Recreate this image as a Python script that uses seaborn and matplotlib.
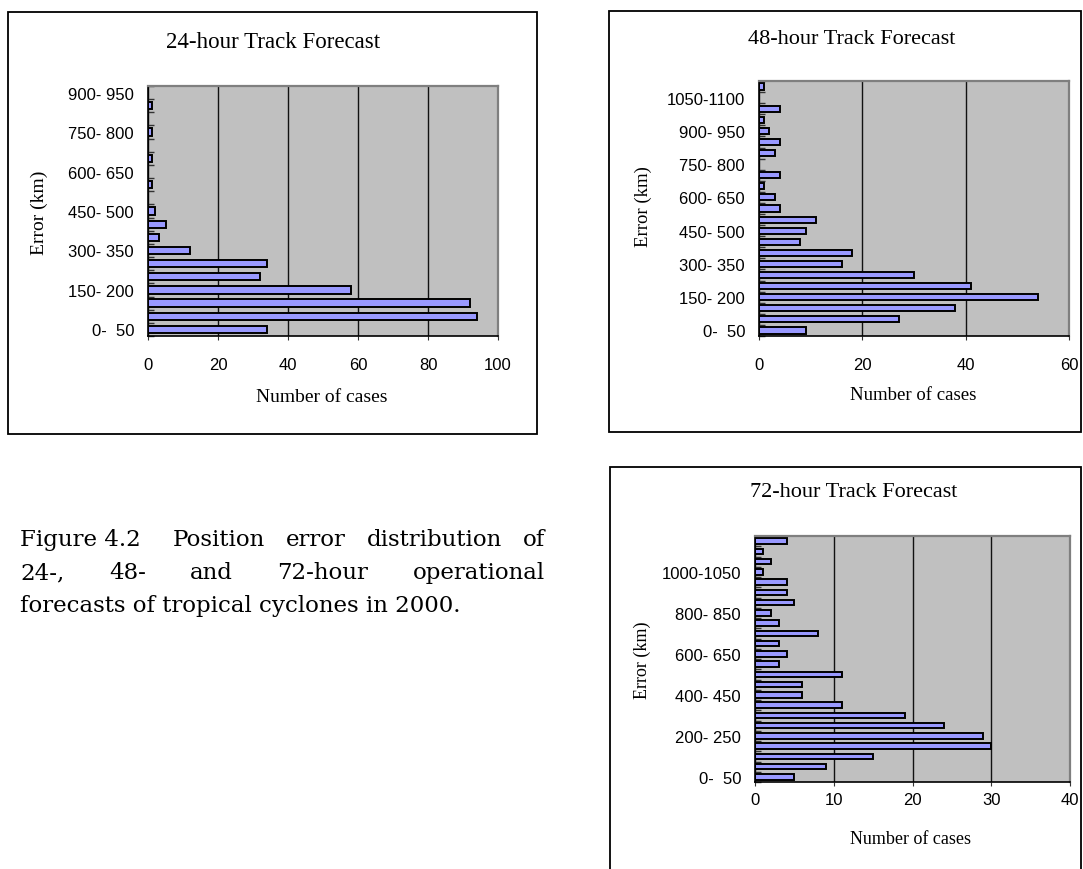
import numpy as np
import matplotlib
matplotlib.use('Agg')
import matplotlib.pyplot as plt
import seaborn as sns
from matplotlib.patches import Rectangle
from matplotlib.ticker import FixedLocator

# Error bins (km) and number of cases per bin
labels_24 = ['0-  50', '50- 100', '100- 150', '150- 200', '200- 250', '250- 300',
             '300- 350', '350- 400', '400- 450', '450- 500', '500- 550', '550- 600',
             '600- 650', '650- 700', '700- 750', '750- 800', '800- 850', '850- 900',
             '900- 950']
labels_48 = labels_24 + ['950-1000', '1000-1050', '1050-1100', '1100-1150']
labels_72 = labels_48 + ['1150-1200']

cases_24 = [34, 94, 92, 58, 32, 34, 12, 3, 5, 2, 0, 1, 0, 1, 0, 1, 0, 1, 0]
cases_48 = [9, 27, 38, 54, 41, 30, 16, 18, 8, 9, 11, 4, 3, 1, 4, 0, 3, 4, 2, 1, 4, 0, 1]
cases_72 = [5, 9, 15, 30, 29, 24, 19, 11, 6, 6, 11, 3, 4, 3, 8, 3, 2, 5, 4, 4, 1, 2, 1, 4]

W, H = 1083, 870
fig = plt.figure(figsize=(W / 100, H / 100), dpi=100)

SERIF = 'Liberation Serif'
SANS = 'Liberation Sans'
BAR = '#9999ff'
BG = '#c0c0c0'


def fx(x):
    return x / W


def fy(y):
    return 1 - y / H


def panel(box, labels, cases, step, xmax, xstep, xpad):
    x0, y0, x1, y1 = box
    ax = fig.add_axes([fx(x0), fy(y1), (x1 - x0) / W, (y1 - y0) / H])
    sns.barplot(x=cases, y=labels, orient='h', color=BAR, saturation=1,
                edgecolor='black', linewidth=1.4, width=0.55, ax=ax)
    n = len(labels)
    ax.set_facecolor(BG)
    ax.set_xlim(0, xmax)
    ax.set_ylim(-0.5, n - 0.5)
    ax.set_xlabel('')
    ax.set_ylabel('')
    ticks = list(range(0, n, step))
    ax.set_yticks(ticks)
    ax.set_yticklabels([labels[i] for i in ticks], fontfamily=SANS, fontsize=12)
    ax.yaxis.set_minor_locator(FixedLocator(np.arange(-0.5, n, 1)))
    ax.tick_params(axis='y', which='major', length=0, pad=10)
    ax.tick_params(axis='y', which='minor', direction='in', length=4,
                   color='#333333', width=1)
    xt = list(range(0, xmax + 1, xstep))
    ax.set_xticks(xt)
    ax.set_xticklabels([str(v) for v in xt], fontfamily=SANS, fontsize=12)
    ax.tick_params(axis='x', which='major', direction='out', length=3,
                   color='#333333', pad=xpad)
    ax.xaxis.grid(True, color='#111111', lw=1)
    ax.set_axisbelow(True)
    for s in ['left', 'bottom']:
        ax.spines[s].set_color('black')
        ax.spines[s].set_linewidth(1.2)
    for s in ['top', 'right']:
        ax.spines[s].set_color('#7f7f7f')
        ax.spines[s].set_linewidth(1.6)
    return ax


def frame(x0, y0, x1, y1):
    fig.add_artist(Rectangle((fx(x0), fy(y1)), (x1 - x0) / W, (y1 - y0) / H,
                             transform=fig.transFigure, fill=False,
                             edgecolor='black', lw=1.3))


def label_text(x, y, s, size, rot=0):
    fig.text(fx(x), fy(y), s, ha='center', va='center', rotation=rot,
             fontfamily=SERIF, fontsize=size)


# 24-hour
frame(8, 13, 537, 435)
panel((148, 87, 498, 337), labels_24, cases_24, 3, 100, 20, 12)
label_text(273, 42, '24-hour Track Forecast', 16.5)
label_text(322, 398, 'Number of cases', 14)
label_text(39, 213, 'Error (km)', 14, 90)

# 48-hour
frame(609, 12, 1081, 433)
panel((759, 82, 1069, 337), labels_48, cases_48, 3, 60, 20, 12)
label_text(852, 39, '48-hour Track Forecast', 16)
label_text(913, 396, 'Number of cases', 13.5)
label_text(643, 207, 'Error (km)', 13.5, 90)

# 72-hour
frame(610, 468, 1081, 875)
panel((755, 537, 1070, 783), labels_72, cases_72, 4, 40, 10, 4)
label_text(854, 493, '72-hour Track Forecast', 16)
label_text(911, 840, 'Number of cases', 13)
label_text(642, 660, 'Error (km)', 13, 90)

# Caption, justified between x_left and x_right
cap = dict(fontfamily='DejaVu Serif', fontsize=16.5, va='baseline', ha='left')
renderer = fig.canvas.get_renderer()


def justify(words, x_left, x_right, y):
    texts = [fig.text(0, fy(y), w, **cap) for w in words]
    widths = [t.get_window_extent(renderer).width for t in texts]
    gap = (x_right - x_left - sum(widths)) / max(len(words) - 1, 1)
    x = x_left
    for t, w in zip(texts, widths):
        t.set_x(fx(x))
        x += w + gap


fig.text(fx(20), fy(546), 'Figure 4.2', **cap)
justify(['Position', 'error', 'distribution', 'of'], 173, 545, 546)
justify(['24-,', '48-', 'and', '72-hour', 'operational'], 20, 545, 579)
fig.text(fx(20), fy(612), 'forecasts of tropical cyclones in 2000.', **cap)

fig.savefig('out.png', dpi=100)
plt.close(fig)
